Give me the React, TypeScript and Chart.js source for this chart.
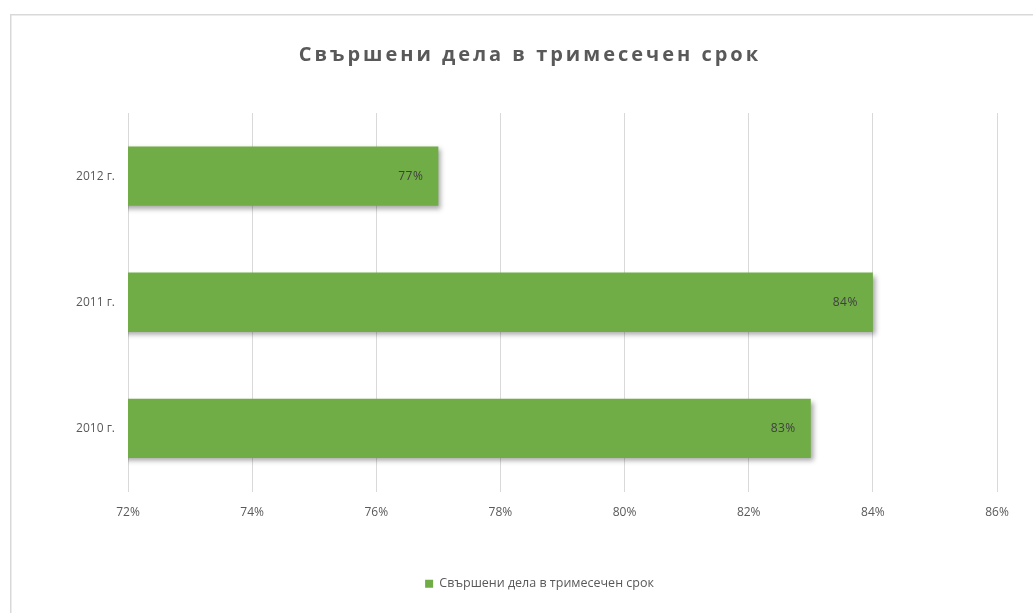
import { useEffect, useRef } from 'react';
import { Chart, registerables } from 'chart.js';

Chart.register(...registerables);

const TITLE = 'Свършени дела в тримесечен срок';
const SERIES_NAME = 'Свършени дела в тримесечен срок';
const CATEGORIES = ['2012 г.', '2011 г.', '2010 г.'];
const VALUES = [77, 84, 83];
const X_MIN = 72;
const X_MAX = 86;
const X_STEP = 2;

const GREEN = '#70AD47';
const TEXT = '#595959';
const GRID = '#d9d9d9';
const FONT = "'Open Sans', 'Noto Sans', sans-serif";

const framePlugin = {
  id: 'frame',
  beforeDraw(chart: any) {
    const ctx = chart.ctx;
    ctx.save();
    ctx.fillStyle = '#ffffff';
    ctx.fillRect(0, 0, chart.width, chart.height);
    ctx.strokeStyle = GRID;
    ctx.lineWidth = 1.5;
    ctx.strokeRect(10.75, 14.75, chart.width + 20, chart.height + 20);
    ctx.restore();
  },
};

const titlePlugin = {
  id: 'spacedTitle',
  afterDraw(chart: any) {
    const ctx = chart.ctx;
    ctx.save();
    ctx.font = `bold 20px ${FONT}`;
    (ctx as any).letterSpacing = '3px';
    ctx.fillStyle = TEXT;
    ctx.textAlign = 'center';
    ctx.textBaseline = 'middle';
    ctx.fillText(TITLE, 530, 55);
    ctx.restore();
  },
};

// The original legend is centred on the full (wider) chart frame, not the canvas.
const legendShiftPlugin = {
  id: 'legendShift',
  afterLayout(chart: any) {
    const lg = chart.legend;
    if (lg) {
      lg.left += 41;
      lg.right += 41;
    }
  },
};

const shadowPlugin = {
  id: 'barShadow',
  beforeDatasetsDraw(chart: any) {
    const ctx = chart.ctx;
    ctx.save();
    ctx.shadowColor = 'rgba(0,0,0,0.35)';
    ctx.shadowBlur = 5;
    ctx.shadowOffsetX = 3;
    ctx.shadowOffsetY = 3;
  },
  afterDatasetsDraw(chart: any) {
    chart.ctx.restore();
    const ctx = chart.ctx;
    ctx.save();
    ctx.font = `12px ${FONT}`;
    (ctx as any).letterSpacing = '0.5px';
    ctx.fillStyle = '#404040';
    ctx.textAlign = 'right';
    ctx.textBaseline = 'middle';
    const meta = chart.getDatasetMeta(0);
    meta.data.forEach((bar: any, i: number) => {
      const v = chart.data.datasets[0].data[i];
      ctx.fillText(`${v}%`, bar.x - 15, bar.y);
    });
    ctx.restore();
  },
};

export default function App() {
  const ref = useRef<HTMLCanvasElement | null>(null);

  useEffect(() => {
    if (!ref.current) return;
    const chart = new Chart(ref.current, {
      type: 'bar',
      data: {
        labels: CATEGORIES,
        datasets: [
          {
            label: SERIES_NAME,
            data: VALUES,
            backgroundColor: GREEN,
            borderWidth: 0,
            categoryPercentage: 1,
            barPercentage: 0.47,
          },
        ],
      },
      options: {
        indexAxis: 'y',
        responsive: false,
        animation: false,
        layout: { padding: { top: 113, right: 36, bottom: 13, left: 0 } },
        scales: {
          x: {
            min: X_MIN,
            max: X_MAX,
            grid: { color: GRID, lineWidth: 1, drawTicks: false },
            border: { display: false },
            ticks: {
              stepSize: X_STEP,
              padding: 14,
              color: TEXT,
              font: { family: FONT, size: 12 },
              callback: (v: any) => `${v}%`,
            },
            afterFit: (s: any) => {
              s.height = 76;
            },
          },
          y: {
            grid: { display: false, drawTicks: false },
            border: { display: false },
            ticks: {
              padding: 13,
              color: TEXT,
              font: { family: FONT, size: 12 },
            },
            afterFit: (s: any) => {
              s.width = 128;
            },
          },
        },
        plugins: {
          title: { display: false },
          tooltip: { enabled: false },
          legend: {
            position: 'bottom',
            labels: {
              boxWidth: 8,
              boxHeight: 8,
              color: TEXT,
              padding: 10,
              font: { family: FONT, size: 12.5 },
            },
          },
        },
      },
      plugins: [framePlugin, titlePlugin, legendShiftPlugin, shadowPlugin],
    });
    return () => chart.destroy();
  }, []);

  return (
    <div style={{ position: 'absolute', left: 0, top: 0, width: 1033, height: 613, overflow: 'hidden' }}>
      <canvas ref={ref} width={1033} height={613} />
    </div>
  );
}
